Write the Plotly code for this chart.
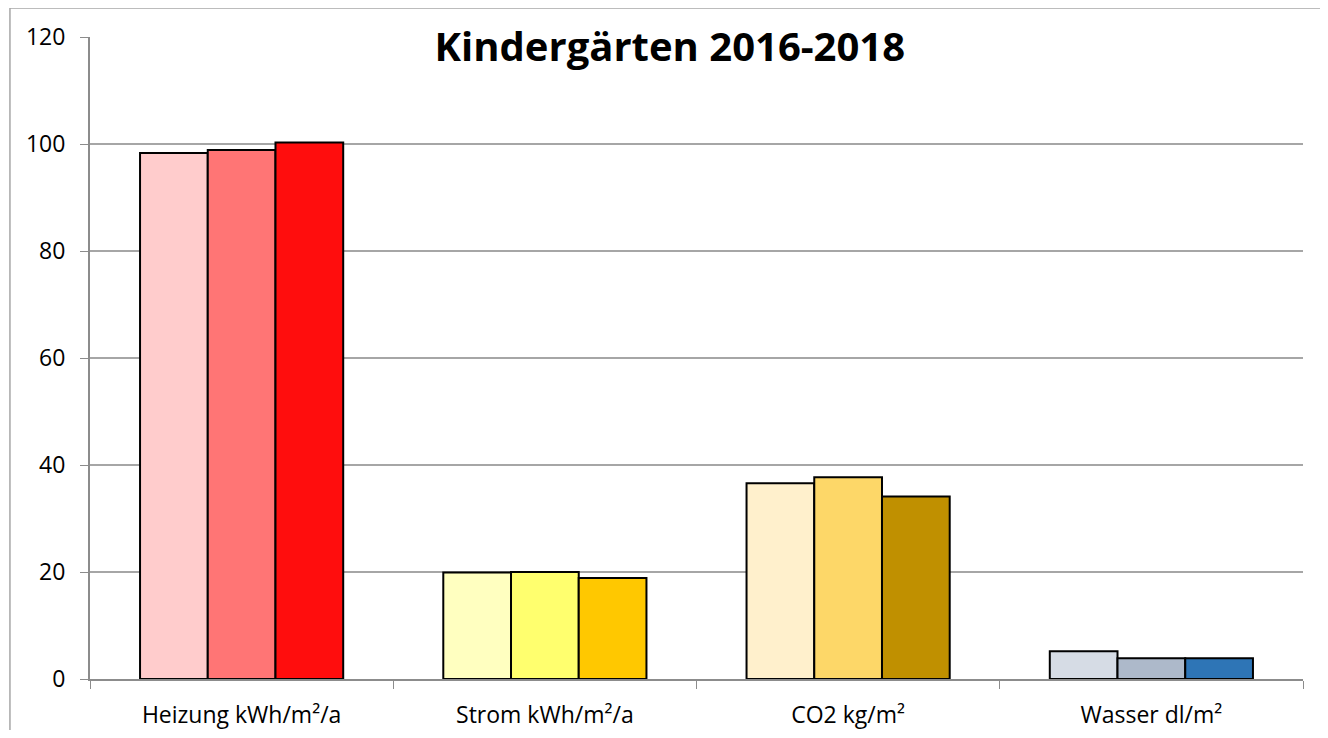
import plotly.graph_objects as go

categories = ["Heizung kWh/m²/a", "Strom kWh/m²/a", "CO2 kg/m²", "Wasser dl/m²"]
years = ["2016", "2017", "2018"]
values = {
    "2016": [98.3, 19.9, 36.6, 5.2],
    "2017": [98.9, 20.0, 37.7, 3.9],
    "2018": [100.3, 18.9, 34.1, 3.9],
}
colors = {
    "2016": ["#FFCCCC", "#FFFFC0", "#FFF0CC", "#D6DCE5"],
    "2017": ["#FF7575", "#FFFF6E", "#FDD768", "#ADB9CA"],
    "2018": ["#FF0D0D", "#FFC800", "#C09000", "#2E75B6"],
}

fig = go.Figure()
for yr in years:
    fig.add_trace(go.Bar(
        x=categories, y=values[yr], name=yr,
        marker=dict(color=colors[yr], line=dict(color="black", width=2)),
    ))

# page body has an 8px margin, so the figure is drawn 8px in from the window
fig.update_layout(
    width=1312, height=722,
    barmode="group", bargap=0.33, bargroupgap=0,
    showlegend=False,
    plot_bgcolor="white", paper_bgcolor="white",
    margin=dict(l=82, r=17, t=29, b=51),
    font=dict(family="Open Sans", color="black"),
    title=dict(text="<b>Kindergärten 2016-2018</b>", x=0.478, xanchor="center",
               xref="paper", y=0.946, yanchor="middle",
               font=dict(size=40, color="black")),
    xaxis=dict(showline=True, linecolor="#8C8C8C", linewidth=2, ticks="outside",
               ticklen=8, tickcolor="#8C8C8C", tickson="boundaries",
               ticklabelstandoff=14, tickfont=dict(size=23), automargin=False),
    yaxis=dict(range=[0, 120], dtick=20, showgrid=True, gridcolor="#A6A6A6",
               gridwidth=1.5, showline=True, linecolor="#8C8C8C", linewidth=2,
               ticks="outside", ticklen=8, tickcolor="#8C8C8C",
               ticklabelstandoff=10, tickfont=dict(size=23), zeroline=False,
               automargin=False),
)
fig.add_shape(type="line", xref="paper", yref="paper", x0=-0.066, x1=1.05,
              y0=1.045, y1=1.045, line=dict(color="#A6A6A6", width=1.5))
fig.add_shape(type="line", xref="paper", yref="paper", x0=-0.066, x1=-0.066,
              y0=-0.2, y1=1.045, line=dict(color="#A6A6A6", width=1.5))

fig.write_html("out.html")
